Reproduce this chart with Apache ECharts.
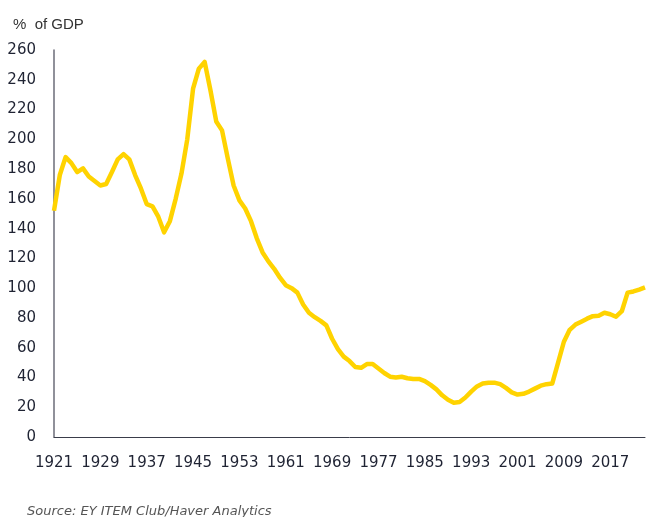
<!DOCTYPE html>
<head>
    <meta charset="utf-8">
    <title>ECharts</title>
    <script src="https://cdn.jsdelivr.net/npm/echarts@6/dist/echarts.min.js"></script>
    <style>
        body { margin: 0; background: #fff; }
    </style>
</head>
<body>
    <div id="container" style="width:646px;height:517px"></div>
    <script type="text/javascript">

        // years on the x axis, one point per year
        var years = [];
        for (var y = 1921; y <= 2023; y++) years.push(String(y));

        // public sector net debt, % of GDP
        var debt1921s = [152, 176, 188, 184, 178, 180.5, 175, 172, 169, 170];
        var debt1931s = [178, 186.5, 190, 186.5, 176, 167, 156.5, 155, 148, 137.5];
        var debt1941s = [145, 160, 177, 200, 234, 247.5, 252, 233, 212, 206];
        var debt1951s = [187, 169, 159, 153.5, 145, 133.5, 124, 118, 113, 107];
        var debt1961s = [102, 100, 97, 89, 83.5, 80.5, 78, 75, 66, 59];
        var debt1971s = [54, 51, 47, 46.5, 49, 49, 46, 43, 40.5, 40];
        var debt1981s = [40.5, 39.5, 39, 39, 37.5, 35, 32, 28, 25, 23];
        var debt1991s = [23.5, 26.5, 30.5, 34, 36, 36.5, 36.5, 35.5, 33, 30];
        var debt2001s = [28.5, 29, 30.5, 32.5, 34.5, 35.5, 36, 50, 64, 72];
        var debt2011s = [75.5, 77.5, 79.5, 81.2, 81.5, 83.5, 82.5, 80.8, 84.5, 97];
        var debt2021s = [97.8, 99, 100.5];

        var debt = [].concat(debt1921s, debt1931s, debt1941s, debt1951s, debt1961s,
                             debt1971s, debt1981s, debt1991s, debt2001s, debt2011s, debt2021s);

        var yMin = 0, yMax = 260, yStep = 20;

        var dom = document.getElementById("container");
        var myChart = echarts.init(dom);

        var option = {
            backgroundColor: '#ffffff',
            animation: false,
            textStyle: { fontFamily: 'DejaVu Sans' },
            title: [
                {
                    text: '%  of GDP',
                    left: 8, top: 12,
                    textStyle: { fontFamily: 'Liberation Sans', fontSize: 15, fontWeight: 'normal', color: '#333333' }
                },
                {
                    text: 'Source: EY ITEM Club/Haver Analytics',
                    left: 22, top: 500,
                    textStyle: { fontFamily: 'DejaVu Sans', fontSize: 13, fontStyle: 'italic', fontWeight: 'normal', color: '#555555' }
                }
            ],
            grid: { left: 54, right: 1, top: 50, bottom: 80 },
            xAxis: {
                type: 'category',
                boundaryGap: false,
                data: years,
                axisLine: { lineStyle: { color: '#3a3d4a', width: 1 } },
                axisTick: { show: false },
                axisLabel: { interval: 7, margin: 19, fontSize: 15, color: '#1f2333' },
                splitLine: { show: false }
            },
            yAxis: {
                type: 'value',
                min: yMin, max: yMax, interval: yStep,
                axisLine: { show: true, lineStyle: { color: '#6b6d78', width: 1.5 } },
                axisTick: { show: false },
                axisLabel: { margin: 18, fontSize: 15, color: '#1f2333' },
                splitLine: { show: false }
            },
            series: [
                {
                    name: 'PSND',
                    type: 'line',
                    data: debt,
                    symbol: 'none',
                    lineStyle: { color: '#FFD300', width: 4.5, join: 'round' }
                }
            ]
        };
        myChart.setOption(option);

    </script>
</body>
